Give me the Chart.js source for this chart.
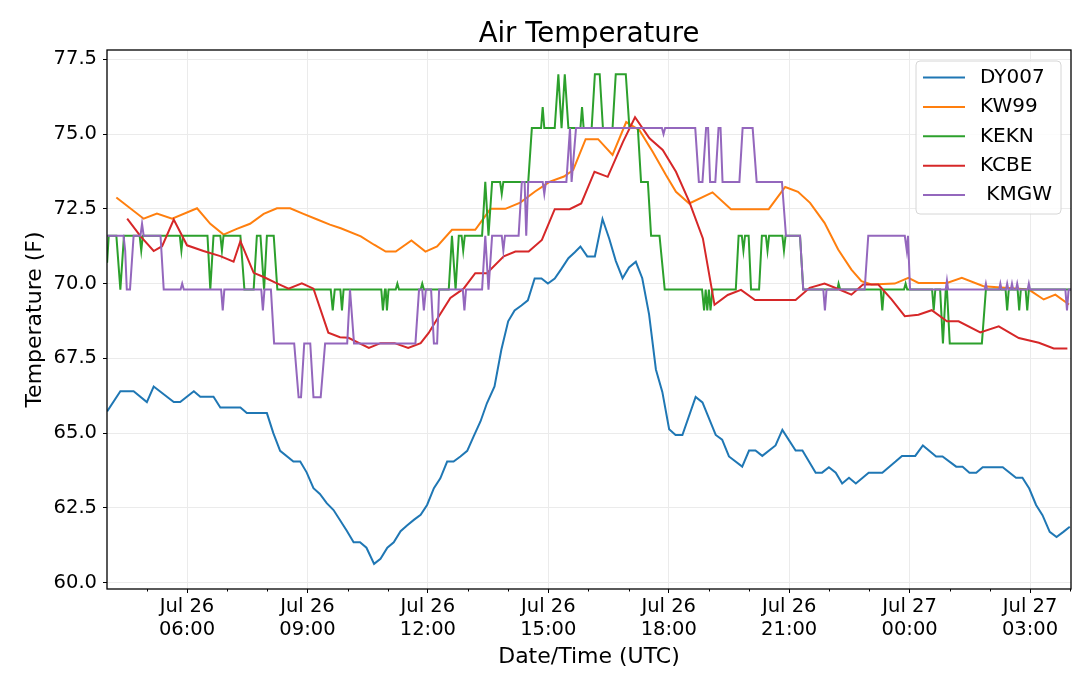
<!DOCTYPE html>
<html>
<head>
<meta charset="utf-8">
<script src="https://cdn.jsdelivr.net/npm/chart.js@4"></script>
<style>
  html, body { margin: 0; padding: 0; background: #fff; }
  canvas { display: block; }
</style>
</head>
<body>
<canvas id="c" width="1080" height="676"></canvas>
<script>
// ---------- data (hours since Jul 26 00:00 UTC, temperature in F) ----------
const chartTitle = 'Air Temperature';
const seriesNames = ['DY007', 'KW99', 'KEKN', 'KCBE', ' KMGW'];
const seriesColors = ['#1f77b4', '#ff7f0e', '#2ca02c', '#d62728', '#9467bd'];

const dy007Hours = [4.01,4.34,4.67,5.00,5.17,5.67,5.83,6.17,6.33,6.66,6.83,7.33,7.49,7.99,8.15,8.32,8.65,8.82,8.98,9.15,9.31,9.48,9.65,9.98,10.15,10.31,10.47,10.66,10.82,10.99,11.15,11.32,11.48,11.65,11.82,11.98,12.15,12.31,12.48,12.64,12.81,12.98,13.14,13.31,13.47,13.66,13.83,14.00,14.16,14.33,14.49,14.66,14.83,14.99,15.16,15.33,15.50,15.66,15.80,15.97,16.16,16.35,16.52,16.68,16.85,17.01,17.18,17.34,17.51,17.68,17.84,18.01,18.17,18.34,18.67,18.84,19.17,19.33,19.50,19.83,20.00,20.16,20.33,20.66,20.83,21.16,21.33,21.66,21.82,21.99,22.16,22.32,22.49,22.66,22.98,23.32,23.65,23.81,24.14,24.33,24.66,24.82,25.16,25.32,25.49,25.66,25.82,26.32,26.65,26.81,26.98,27.15,27.31,27.49,27.66,27.83,27.99];
const dy007Temps = [65.73,66.40,66.40,66.04,66.56,66.04,66.04,66.40,66.22,66.22,65.86,65.86,65.67,65.67,65.00,64.41,64.05,64.05,63.69,63.16,62.97,62.66,62.43,61.74,61.35,61.35,61.17,60.63,60.80,61.17,61.35,61.72,61.91,62.10,62.27,62.60,63.16,63.49,64.05,64.05,64.22,64.41,64.89,65.39,66.00,66.56,67.79,68.74,69.10,69.27,69.44,70.17,70.17,70.00,70.17,70.50,70.85,71.05,71.24,70.91,70.91,72.16,71.49,70.76,70.18,70.54,70.73,70.18,68.97,67.13,66.38,65.13,64.94,64.94,66.21,66.03,64.94,64.78,64.22,63.88,64.42,64.42,64.24,64.59,65.11,64.42,64.42,63.68,63.68,63.86,63.68,63.32,63.51,63.32,63.68,63.68,64.05,64.24,64.24,64.59,64.22,64.22,63.88,63.88,63.68,63.68,63.86,63.86,63.51,63.51,63.15,62.60,62.26,61.70,61.53,61.70,61.87];

const kw99Hours = [4.24,4.92,5.25,5.63,6.25,6.58,6.91,7.24,7.57,7.91,8.24,8.57,8.90,9.23,9.56,9.83,10.33,10.66,10.95,11.20,11.59,11.94,12.23,12.60,13.18,13.56,13.93,14.30,14.67,15.04,15.39,15.62,15.93,16.24,16.60,16.94,17.27,17.60,17.93,18.18,18.51,19.09,19.55,20.49,20.90,21.22,21.52,21.88,22.22,22.55,22.80,23.05,23.63,23.97,24.22,24.93,25.30,25.84,26.97,27.34,27.63,27.97];
const kw99Temps = [72.88,72.17,72.34,72.17,72.52,72.00,71.64,71.83,72.00,72.33,72.52,72.52,72.33,72.15,71.97,71.85,71.58,71.30,71.07,71.07,71.44,71.07,71.24,71.80,71.80,72.50,72.50,72.71,73.08,73.41,73.58,73.80,74.83,74.83,74.30,75.40,75.13,74.41,73.63,73.07,72.68,73.05,72.49,72.49,73.23,73.07,72.70,72.03,71.14,70.47,70.08,69.97,70.00,70.19,70.02,70.02,70.19,69.91,69.80,69.47,69.63,69.30];

const keknHours = [4.01,4.05,4.24,4.34,4.43,4.82,4.86,4.90,5.82,5.86,5.90,6.51,6.58,6.66,6.83,6.87,6.91,7.33,7.43,7.66,7.74,7.83,7.92,7.99,8.16,8.25,9.58,9.63,9.68,9.82,9.86,9.90,10.84,10.88,10.93,10.95,10.98,11.02,11.20,11.24,11.28,11.82,11.86,11.90,12.52,12.60,12.69,12.77,12.84,12.88,12.92,13.35,13.43,13.51,13.60,13.80,13.84,13.88,14.50,14.59,14.82,14.86,14.90,15.16,15.25,15.33,15.41,15.50,15.80,15.84,15.88,16.08,16.16,16.28,16.36,16.60,16.68,16.93,17.02,17.23,17.31,17.48,17.56,17.77,17.90,18.83,18.88,18.92,18.96,19.00,19.04,19.09,19.67,19.74,19.82,19.86,19.90,19.99,20.05,20.25,20.32,20.42,20.46,20.50,20.83,20.87,20.91,21.27,21.35,22.20,22.23,22.27,23.28,23.32,23.36,23.86,23.90,23.94,24.56,24.60,24.64,24.76,24.83,24.90,24.93,25.00,25.80,25.90,26.39,26.43,26.47,26.69,26.73,26.77,26.89,26.93,26.97,28.02];
const keknTemps = [70.7,71.6,71.6,69.8,71.6,71.6,71.1,71.6,71.6,71.1,71.6,71.6,69.8,71.6,71.6,71.1,71.6,71.6,69.8,69.8,71.6,71.6,69.8,71.6,71.6,69.8,69.8,69.1,69.8,69.8,69.1,69.8,69.8,69.1,69.8,69.8,69.1,69.8,69.8,70.0,69.8,69.8,70.0,69.8,69.8,71.6,69.8,71.6,71.6,71.1,71.6,71.6,73.4,71.6,73.4,73.4,73.0,73.4,73.4,75.2,75.2,75.9,75.2,75.2,77.0,75.2,77.0,75.2,75.2,75.9,75.2,75.2,77.0,77.0,75.2,75.2,77.0,77.0,75.2,75.2,73.4,73.4,71.6,71.6,69.8,69.8,69.1,69.8,69.1,69.8,69.1,69.8,69.8,71.6,71.6,71.1,71.6,71.6,69.8,69.8,71.6,71.6,71.1,71.6,71.6,71.1,71.6,71.6,69.8,69.8,70.0,69.8,69.8,69.1,69.8,69.8,70.0,69.8,69.8,69.1,69.8,69.8,68.0,69.8,69.8,68.0,68.0,69.8,69.8,69.1,69.8,69.8,69.1,69.8,69.8,69.1,69.8,69.8];

const kcbeHours = [4.51,4.84,5.17,5.38,5.67,6.00,6.41,6.83,7.16,7.33,7.66,7.91,8.20,8.53,8.86,9.15,9.52,9.81,10.02,10.53,10.82,11.17,11.51,11.82,12.02,12.27,12.56,12.89,13.18,13.47,13.89,14.18,14.51,14.84,15.16,15.53,15.82,16.15,16.48,16.86,17.16,17.52,17.85,18.18,18.51,18.85,19.14,19.47,19.80,20.15,21.16,21.51,21.88,22.22,22.55,22.84,23.22,23.55,23.88,24.22,24.55,24.93,25.22,25.76,26.22,26.72,27.22,27.59,27.93];
const kcbeTemps = [72.17,71.59,71.09,71.25,72.14,71.28,71.09,70.92,70.73,71.42,70.36,70.22,70.03,69.83,70.01,69.83,68.36,68.21,68.19,67.85,68.01,68.01,67.85,68.01,68.35,68.90,69.52,69.83,70.35,70.35,70.91,71.07,71.07,71.46,72.49,72.49,72.68,73.74,73.57,74.74,75.56,74.86,74.47,73.74,72.74,71.51,69.29,69.62,69.79,69.45,69.45,69.86,70.00,69.82,69.63,69.97,69.97,69.47,68.91,68.96,69.11,68.74,68.74,68.37,68.57,68.18,68.02,67.83,67.83];

const kmgwHours = [4.01,4.42,4.46,4.50,4.58,4.67,4.84,4.88,4.92,5.34,5.42,5.84,5.88,5.92,6.85,6.89,6.93,7.85,7.89,7.93,8.09,8.17,8.67,8.78,8.84,8.92,9.07,9.15,9.33,9.44,9.99,10.06,10.16,11.69,11.78,11.86,11.90,11.95,12.08,12.15,12.23,12.28,12.87,12.91,12.95,13.35,13.43,13.51,13.60,13.84,13.88,13.92,14.26,14.34,14.41,14.45,14.50,14.86,14.90,14.94,15.45,15.54,15.58,15.69,17.83,17.87,17.91,18.66,18.75,18.84,18.93,18.98,19.03,19.16,19.24,19.29,19.34,19.76,19.84,20.09,20.19,20.82,20.92,21.27,21.35,21.85,21.89,21.93,22.88,22.97,23.88,23.93,23.96,24.01,24.90,24.93,24.96,25.87,25.90,25.93,26.23,26.26,26.29,26.40,26.43,26.46,26.52,26.55,26.58,26.65,26.68,26.71,26.94,26.97,27.00,27.88,27.92,27.96,28.02];
const kmgwTemps = [71.6,71.6,71.1,69.8,69.8,71.6,71.6,72.0,71.6,71.6,69.8,69.8,70.0,69.8,69.8,69.1,69.8,69.8,69.1,69.8,69.8,68.0,68.0,66.2,66.2,68.0,68.0,66.2,66.2,68.0,68.0,69.8,68.0,68.0,69.8,69.8,69.1,69.8,69.8,68.0,68.0,69.8,69.8,69.1,69.8,69.8,71.6,69.8,71.6,71.6,71.1,71.6,71.6,73.4,73.4,71.6,73.4,73.4,73.0,73.4,73.4,75.2,73.4,75.2,75.2,75.0,75.2,75.2,73.4,73.4,75.2,75.2,73.4,73.4,75.2,75.2,73.4,73.4,75.2,75.2,73.4,73.4,71.6,71.6,69.8,69.8,69.1,69.8,69.8,71.6,71.6,71.1,71.6,69.8,69.8,70.1,69.8,69.8,70.0,69.8,69.8,70.0,69.8,69.8,70.0,69.8,69.8,70.0,69.8,69.8,70.0,69.8,69.8,70.0,69.8,69.8,69.1,69.8,69.8];

const allHours = [dy007Hours, kw99Hours, keknHours, kcbeHours, kmgwHours];
const allTemps = [dy007Temps, kw99Temps, keknTemps, kcbeTemps, kmgwTemps];

// axis settings
const xMin = 4.007, xMax = 28.02;
const yMin = 59.79, yMax = 77.81;
const yTickStep = 2.5;
const dayLabels = ['Jul 26', 'Jul 27'];

// ---------- chart ----------
const FONT = 'DejaVu Sans';
Chart.defaults.font.family = FONT;
Chart.defaults.color = '#000';

function toPoints(h, t) { return h.map((x, i) => ({ x: x, y: t[i] })); }
const isMajor = v => Math.abs(v % 3) < 1e-6;

const datasets = seriesNames.map((name, i) => ({
  label: name,
  data: toPoints(allHours[i], allTemps[i]),
  borderColor: seriesColors[i],
  backgroundColor: seriesColors[i],
  borderWidth: 2,
  pointRadius: 0,
  tension: 0,
  fill: false,
  order: seriesNames.length - 1 - i
}));

const framePlugin = {
  id: 'frame',
  afterDraw(chart) {
    const { ctx, chartArea: a } = chart;
    const xs = chart.scales.x;
    ctx.save();
    // title, centred over the plot area
    ctx.fillStyle = '#000';
    ctx.font = '27.5px "' + FONT + '"';
    ctx.textAlign = 'center';
    ctx.textBaseline = 'alphabetic';
    ctx.fillText(chartTitle, (a.left + a.right) / 2, a.top - 8);

    // minor ticks every hour
    ctx.strokeStyle = '#000';
    ctx.lineWidth = 1;
    for (let h = Math.ceil(xMin); h <= xMax; h++) {
      if (isMajor(h)) continue;
      const px = Math.round(xs.getPixelForValue(h)) + 0.5;
      ctx.beginPath();
      ctx.moveTo(px, a.bottom);
      ctx.lineTo(px, a.bottom + 2.5);
      ctx.stroke();
    }
    // frame
    ctx.lineWidth = 1.3;
    ctx.strokeStyle = '#000';
    ctx.strokeRect(a.left, a.top, a.right - a.left, a.bottom - a.top);

    // legend
    const lx = a.right - 155, ly = a.top + 11, lw = 145, lh = 153;
    ctx.beginPath();
    if (ctx.roundRect) ctx.roundRect(lx, ly, lw, lh, 4); else ctx.rect(lx, ly, lw, lh);
    ctx.fillStyle = 'rgba(255,255,255,0.85)';
    ctx.fill();
    ctx.strokeStyle = '#d6d6d6';
    ctx.lineWidth = 1;
    ctx.stroke();
    ctx.font = '20px "' + FONT + '"';
    ctx.textBaseline = 'middle';
    ctx.textAlign = 'left';
    seriesNames.forEach((name, i) => {
      const ry = ly + 16.5 + i * 29.4;
      ctx.strokeStyle = seriesColors[i];
      ctx.lineWidth = 2;
      ctx.beginPath();
      ctx.moveTo(lx + 7, ry);
      ctx.lineTo(lx + 49, ry);
      ctx.stroke();
      ctx.fillStyle = '#000';
      ctx.fillText(name, lx + 64, ry);
    });
    ctx.restore();
  }
};

new Chart(document.getElementById('c'), {
  type: 'line',
  data: { datasets },
  options: {
    responsive: false,
    animation: false,
    devicePixelRatio: 1,
    layout: { padding: { left: 0, right: 9, top: 50, bottom: 0 } },
    plugins: {
      legend: { display: false },
      tooltip: { enabled: false },
      title: { display: false }
    },
    scales: {
      x: {
        type: 'linear',
        min: xMin,
        max: xMax,
        afterFit: s => { s.height = 87; },
        border: { display: false },
        grid: {
          color: c => (c.tick && isMajor(c.tick.value)) ? '#ebebeb' : 'rgba(0,0,0,0)',
          tickColor: c => (c.tick && isMajor(c.tick.value)) ? '#000' : 'rgba(0,0,0,0)',
          tickLength: 4,
          lineWidth: 1
        },
        ticks: {
          stepSize: 1,
          autoSkip: false,
          includeBounds: false,
          maxTicksLimit: 100,
          maxRotation: 0,
          minRotation: 0,
          padding: 2,
          color: '#000',
          font: { family: FONT, size: 19.5 },
          callback: v => {
            if (!isMajor(v)) return '';
            const day = dayLabels[Math.floor(v / 24)];
            const hh = String(v % 24).padStart(2, '0');
            return [day, hh + ':00'];
          }
        },
        title: {
          display: true,
          text: 'Date/Time (UTC)',
          color: '#000',
          font: { family: FONT, size: 22 },
          padding: { top: 0, bottom: 5.8 }
        }
      },
      y: {
        type: 'linear',
        min: yMin,
        max: yMax,
        afterFit: s => { s.width = 107; },
        border: { display: false },
        grid: { color: '#ebebeb', tickColor: '#000', tickLength: 4, lineWidth: 1 },
        ticks: {
          stepSize: yTickStep,
          includeBounds: false,
          maxTicksLimit: 100,
          padding: 6,
          color: '#000',
          font: { family: FONT, size: 19.5 },
          callback: v => v.toFixed(1)
        },
        title: {
          display: true,
          text: 'Temperature (F)',
          color: '#000',
          font: { family: FONT, size: 22 },
          padding: { top: 21.8, bottom: 0 }
        }
      }
    }
  },
  plugins: [framePlugin]
});
</script>
</body>
</html>
